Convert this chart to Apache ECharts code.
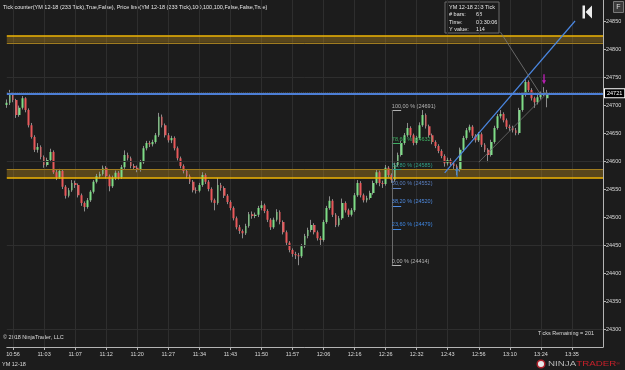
<!DOCTYPE html>
<html>
<head>
<meta charset="utf-8">
<script src="https://cdn.jsdelivr.net/npm/echarts@6/dist/echarts.min.js"></script>
<style>
  html, body { margin: 0; background: #1c1c1c; }
  #chart { width: 625px; height: 370px; }
</style>
</head>
<body>
<div id="chart"></div>
<script>
// time labels, one every 10 bars
const times = ['10:56', '11:03', '11:07', '11:12', '11:20', '11:27', '11:34', '11:43', '11:50', '11:57',
  '12:06', '12:16', '12:26', '12:32', '12:43', '12:56', '13:10', '13:24', '13:35']
const yTicks = [24300, 24350, 24400, 24450, 24500, 24550, 24600, 24650, 24700, 24750, 24800, 24850]
const gridLevels = [24300, 24450, 24600, 24750]

// YM 12-18 233 tick bars
const opens = [24700, 24704, 24718, 24709, 24682, 24695, 24712, 24691, 24664, 24643,
  24620, 24625, 24607, 24593, 24602, 24616, 24580, 24571, 24582, 24554,
  24538, 24548, 24561, 24557, 24539, 24525, 24518, 24530, 24545, 24563,
  24573, 24577, 24588, 24573, 24555, 24570, 24579, 24571, 24589, 24611,
  24605, 24591, 24588, 24584, 24598, 24623, 24632, 24630, 24634, 24646,
  24679, 24664, 24646, 24637, 24641, 24623, 24605, 24591, 24582, 24573,
  24563, 24548, 24547, 24557, 24575, 24563, 24550, 24530, 24525, 24557,
  24552, 24538, 24527, 24516, 24498, 24482, 24475, 24471, 24484, 24505,
  24502, 24504, 24516, 24521, 24511, 24495, 24482, 24495, 24509, 24491,
  24473, 24454, 24441, 24434, 24432, 24430, 24448, 24466, 24477, 24486,
  24473, 24462, 24459, 24491, 24516, 24529, 24504, 24486, 24498, 24525,
  24512, 24504, 24512, 24539, 24561, 24539, 24530, 24534, 24543, 24561,
  24580, 24561, 24559, 24588, 24575, 24566, 24593, 24611, 24632, 24646,
  24659, 24646, 24632, 24641, 24664, 24682, 24662, 24646, 24634, 24627,
  24618, 24609, 24596, 24602, 24596, 24591, 24584, 24620, 24641, 24655,
  24661, 24645, 24637, 24648, 24629, 24620, 24611, 24634, 24659, 24680,
  24684, 24673, 24661, 24659, 24655, 24650, 24691, 24718, 24741, 24727,
  24712, 24705, 24714, 24720, 24712]
const closes = [24704, 24718, 24709, 24682, 24695, 24712, 24691, 24664, 24643, 24620,
  24625, 24607, 24593, 24602, 24616, 24580, 24571, 24582, 24554, 24538,
  24548, 24561, 24557, 24539, 24525, 24518, 24530, 24545, 24563, 24573,
  24577, 24588, 24573, 24555, 24570, 24579, 24571, 24589, 24611, 24605,
  24591, 24588, 24584, 24598, 24623, 24632, 24630, 24634, 24646, 24679,
  24664, 24646, 24637, 24641, 24623, 24605, 24591, 24582, 24573, 24563,
  24548, 24547, 24557, 24575, 24563, 24550, 24530, 24525, 24557, 24552,
  24538, 24527, 24516, 24498, 24482, 24475, 24471, 24484, 24505, 24502,
  24504, 24516, 24521, 24511, 24495, 24482, 24495, 24509, 24491, 24473,
  24454, 24441, 24434, 24432, 24430, 24448, 24466, 24477, 24486, 24473,
  24462, 24459, 24491, 24516, 24529, 24504, 24486, 24498, 24525, 24512,
  24504, 24512, 24539, 24561, 24539, 24530, 24534, 24543, 24561, 24580,
  24561, 24559, 24588, 24575, 24566, 24593, 24611, 24632, 24646, 24659,
  24646, 24632, 24641, 24664, 24682, 24662, 24646, 24634, 24627, 24618,
  24609, 24596, 24602, 24596, 24591, 24584, 24620, 24641, 24655, 24661,
  24645, 24637, 24648, 24629, 24620, 24611, 24634, 24659, 24680, 24684,
  24673, 24661, 24659, 24655, 24650, 24691, 24718, 24741, 24727, 24712,
  24705, 24714, 24720, 24723, 24721]
const lows = [24695, 24700, 24705, 24677, 24679, 24692, 24687, 24660, 24640, 24616,
  24615, 24603, 24588, 24590, 24598, 24577, 24566, 24568, 24550, 24533,
  24535, 24545, 24552, 24535, 24520, 24510, 24515, 24527, 24542, 24560,
  24569, 24574, 24569, 24546, 24552, 24566, 24567, 24568, 24586, 24601,
  24587, 24584, 24580, 24581, 24595, 24619, 24625, 24626, 24631, 24643,
  24660, 24642, 24633, 24632, 24619, 24601, 24587, 24578, 24569, 24559,
  24544, 24542, 24544, 24554, 24559, 24546, 24526, 24512, 24522, 24547,
  24534, 24523, 24512, 24494, 24478, 24470, 24462, 24468, 24481, 24497,
  24498, 24500, 24512, 24507, 24491, 24477, 24479, 24492, 24487, 24469,
  24450, 24437, 24429, 24425, 24414, 24427, 24445, 24462, 24473, 24469,
  24458, 24448, 24456, 24488, 24513, 24500, 24482, 24483, 24495, 24508,
  24500, 24501, 24509, 24536, 24535, 24526, 24526, 24531, 24540, 24558,
  24555, 24552, 24556, 24571, 24561, 24563, 24590, 24608, 24629, 24643,
  24642, 24628, 24629, 24638, 24661, 24658, 24642, 24630, 24623, 24614,
  24605, 24590, 24592, 24592, 24586, 24575, 24581, 24617, 24638, 24651,
  24641, 24633, 24634, 24625, 24616, 24598, 24608, 24631, 24656, 24676,
  24669, 24657, 24654, 24651, 24646, 24647, 24688, 24715, 24723, 24708,
  24695, 24701, 24710, 24716, 24696]
const highs = [24710, 24727, 24722, 24711, 24699, 24716, 24714, 24694, 24668, 24646,
  24632, 24628, 24610, 24606, 24622, 24619, 24584, 24586, 24585, 24557,
  24552, 24566, 24565, 24560, 24542, 24528, 24534, 24548, 24566, 24577,
  24581, 24592, 24591, 24576, 24574, 24583, 24582, 24593, 24619, 24615,
  24608, 24595, 24592, 24602, 24627, 24636, 24636, 24638, 24650, 24686,
  24683, 24667, 24650, 24645, 24644, 24626, 24608, 24594, 24585, 24576,
  24566, 24553, 24561, 24580, 24578, 24566, 24553, 24533, 24570, 24561,
  24555, 24541, 24530, 24519, 24501, 24486, 24478, 24488, 24509, 24510,
  24508, 24520, 24529, 24524, 24514, 24498, 24499, 24514, 24512, 24494,
  24476, 24457, 24444, 24438, 24436, 24452, 24470, 24481, 24495, 24489,
  24476, 24466, 24495, 24520, 24537, 24532, 24507, 24502, 24533, 24528,
  24515, 24516, 24543, 24566, 24564, 24542, 24538, 24547, 24565, 24584,
  24583, 24565, 24593, 24591, 24578, 24597, 24615, 24636, 24650, 24668,
  24662, 24649, 24645, 24669, 24691, 24685, 24665, 24649, 24637, 24630,
  24621, 24612, 24606, 24605, 24599, 24594, 24624, 24645, 24659, 24665,
  24664, 24648, 24652, 24651, 24632, 24623, 24638, 24663, 24684, 24691,
  24687, 24676, 24665, 24663, 24659, 24695, 24722, 24746, 24744, 24730,
  24715, 24718, 24724, 24732, 24727]

const lastPrice = 24721
const upperZone = [24811, 24823]
const lowerZone = [24570, 24586]
const fibPct = ['100,00', '78,60', '61,80', '50,00', '38,20', '23,60', '0,00']
const fibVal = [24691, 24632, 24585, 24552, 24520, 24479, 24414]
// drawing tools, [bar index, price]
const trendBlue = [[140.7, 24579], [183.3, 24850]]
const measureLine = [[158.5, 24830], [172, 24718]]
const channelLine = [[151.7, 24598], [174.3, 24721]]
const fibX = [123.9, 126.5]
const upArrow = [145, 24581]
const downArrow = [173, 24746]

const font = 'Liberation Sans, Arial, sans-serif'
const nCats = 193
const showIdx = i => i >= 2 && (i - 2) % 10 === 0 && (i - 2) / 10 < times.length
const cats = []
for (let i = 0; i < nCats; i++)
  cats.push(showIdx(i) ? times[(i - 2) / 10] : '')
const candles = closes.map((c, i) => [opens[i], c, lows[i], highs[i]])
const fibColors = ['#b4b4b4', '#3fae63', '#2f9f86', '#5a7fc0', '#4f8be0', '#3f86e0', '#b4b4b4']

const chart = echarts.init(document.getElementById('chart'))
chart.setOption({
  backgroundColor: '#1c1c1c',
  animation: false,
  grid: { left: 6.8, right: 22, top: 0, bottom: 23 },
  xAxis: {
    type: 'category',
    data: cats,
    boundaryGap: false,
    axisLine: { lineStyle: { color: '#b4b4b4' } },
    axisTick: { interval: showIdx, length: 3, lineStyle: { color: '#b4b4b4' } },
    axisLabel: { interval: showIdx, color: '#dcdcdc', fontSize: 5.5, fontFamily: font, margin: 4 },
    splitLine: { show: true, interval: showIdx, lineStyle: { color: '#2e2e2e' } },
  },
  yAxis: {
    type: 'value',
    position: 'right',
    min: 24268,
    max: 24887.5,
    axisLine: { show: true, lineStyle: { color: '#b4b4b4' } },
    axisTick: { show: true, customValues: yTicks, length: 3, lineStyle: { color: '#b4b4b4' } },
    axisLabel: {
      customValues: yTicks, formatter: v => String(v),
      color: '#dcdcdc', fontSize: 5.5, fontFamily: font, margin: 3,
    },
    splitLine: { show: false },
  },
  series: [
    {
      type: 'line',
      data: [],
      z: 1,
      markLine: {
        silent: true,
        symbol: ['none', 'none'],
        label: { show: false },
        lineStyle: { color: '#2e2e2e', type: 'solid', width: 1 },
        data: gridLevels.map(v => ({ yAxis: v })),
      },
    },
    {
      type: 'candlestick',
      data: candles,
      z: 2,
      barWidth: 1,
      itemStyle: { color: '#8c8c8c', color0: '#8c8c8c', borderColor: '#8c8c8c', borderColor0: '#8c8c8c', borderWidth: 1 },
    },
    {
      type: 'candlestick',
      data: candles,
      z: 3,
      barWidth: 2.3,
      itemStyle: { color: '#7edc86', color0: '#e8585a', borderWidth: 0 },
    },
    {
      type: 'line',
      data: [],
      z: 4,
      markArea: {
        silent: true,
        itemStyle: { color: 'rgba(200,150,30,0.35)' },
        data: [
          [{ yAxis: upperZone[0] }, { yAxis: upperZone[1] }],
          [{ yAxis: lowerZone[0] }, { yAxis: lowerZone[1] }],
        ],
      },
      markLine: {
        silent: true,
        symbol: ['none', 'none'],
        label: { show: false },
        data: [
          { yAxis: upperZone[1], lineStyle: { color: '#f2b705', width: 1.5, type: 'solid' } },
          { yAxis: upperZone[0], lineStyle: { color: '#a07c20', width: 1, type: 'solid' } },
          { yAxis: lowerZone[1], lineStyle: { color: '#a07c20', width: 1, type: 'solid' } },
          { yAxis: lowerZone[0], lineStyle: { color: '#f2b705', width: 1.5, type: 'solid' } },
        ],
      },
    },
    {
      type: 'line',
      data: [],
      z: 5,
      markLine: {
        silent: true,
        symbol: ['none', 'none'],
        data: [
          { yAxis: lastPrice + 2.5, lineStyle: { color: '#4a4a4a', width: 1, type: 'dotted' }, label: { show: false } },
          {
            yAxis: lastPrice,
            lineStyle: { color: '#4d7fd6', width: 2, type: 'solid' },
            label: {
              show: true, position: 'end', distance: 2, formatter: String(lastPrice),
              color: '#ffffff', fontSize: 5.5, fontFamily: font,
              backgroundColor: '#000000', borderColor: '#ffffff', borderWidth: 1, padding: [1, 2],
            },
          },
          ...fibVal.map((v, k) => [
            {
              coord: [fibX[0], v],
              lineStyle: { color: fibColors[k], width: 1, type: 'solid' },
              label: {
                show: true, position: 'insideStartTop', distance: [0, 1],
                formatter: `${fibPct[k]} % (${v})`,
                color: fibColors[k], fontSize: 5.5, fontFamily: font,
              },
            },
            { coord: [fibX[1], v] },
          ]),
          [
            { coord: [fibX[0], fibVal[0]], lineStyle: { color: '#6a6a6a', width: 1, type: 'solid' }, label: { show: false } },
            { coord: [fibX[0], fibVal[6]] },
          ],
          [
            { coord: trendBlue[0], lineStyle: { color: '#4a86e0', width: 1.2, type: 'solid' }, label: { show: false } },
            { coord: trendBlue[1] },
          ],
          [
            { coord: measureLine[0], lineStyle: { color: '#7a7a7a', width: 0.8, type: 'solid' }, label: { show: false } },
            { coord: measureLine[1] },
          ],
          [
            { coord: channelLine[0], lineStyle: { color: '#6e6e6e', width: 0.8, type: 'solid' }, label: { show: false } },
            { coord: channelLine[1] },
          ],
        ],
      },
    },
    {
      type: 'scatter',
      z: 6,
      symbol: 'path://M3,0L6,4L4,4L4,10L2,10L2,4L0,4Z',
      symbolSize: [4, 10],
      data: [
        { value: upArrow, itemStyle: { color: '#3b8ee8' } },
        { value: downArrow, symbolRotate: 180, itemStyle: { color: '#e01fd8' } },
      ],
    },
  ],
  graphic: [
    {
      type: 'text', left: 3, top: 4,
      style: {
        text: 'Tick counter(YM 12-18 (233 Tick),True,False), Price line(YM 12-18 (233 Tick),100,100,100,False,False,True)',
        fill: '#e6e6e6', fontSize: 5.5, fontFamily: font,
      },
    },
    {
      type: 'group', x: 445, y: 2,
      children: [
        { type: 'rect', shape: { x: 0, y: 0, width: 54, height: 31 }, style: { fill: '#1c1c1c', stroke: '#6a6a6a', lineWidth: 1 } },
        { type: 'text', x: 4, y: 2, style: { text: 'YM 12-18 233 Tick', fill: '#e6e6e6', fontSize: 5.5, fontFamily: font } },
        { type: 'text', x: 4, y: 9.5, style: { text: '# bars:', fill: '#e6e6e6', fontSize: 5.5, fontFamily: font } },
        { type: 'text', x: 31, y: 9.5, style: { text: '68', fill: '#e6e6e6', fontSize: 5.5, fontFamily: font } },
        { type: 'text', x: 4, y: 17, style: { text: 'Time:', fill: '#e6e6e6', fontSize: 5.5, fontFamily: font } },
        { type: 'text', x: 31, y: 17, style: { text: '00:30:06', fill: '#e6e6e6', fontSize: 5.5, fontFamily: font } },
        { type: 'text', x: 4, y: 24.5, style: { text: 'Y value:', fill: '#e6e6e6', fontSize: 5.5, fontFamily: font } },
        { type: 'text', x: 31, y: 24.5, style: { text: '114', fill: '#e6e6e6', fontSize: 5.5, fontFamily: font } },
      ],
    },
    { type: 'rect', shape: { x: 582.5, y: 5.5, width: 2.5, height: 13 }, style: { fill: '#ececec' } },
    { type: 'polygon', shape: { points: [[592, 5.5], [585.5, 12], [592, 18.5]] }, style: { fill: '#ececec' } },
    { type: 'rect', shape: { x: 613.5, y: 1.5, width: 10, height: 11 }, style: { fill: '#3a3a3a', stroke: '#7a7a7a', lineWidth: 1 } },
    { type: 'text', x: 616.3, y: 3.5, style: { text: 'F', fill: '#dcdcdc', fontSize: 7, fontFamily: font } },
    { type: 'text', left: 3, top: 334, style: { text: '© 2018 NinjaTrader, LLC', fill: '#dcdcdc', fontSize: 5.5, fontFamily: font } },
    { type: 'text', right: 31, top: 330, style: { text: 'Ticks Remaining = 201', fill: '#dcdcdc', fontSize: 5.5, fontFamily: font } },
    { type: 'text', left: 2, top: 361, style: { text: 'YM 12-18', fill: '#dcdcdc', fontSize: 5.5, fontFamily: font } },
    { type: 'circle', shape: { cx: 541, cy: 364, r: 3.8 }, style: { fill: '#e8e8e8', stroke: '#b0202a', lineWidth: 1.5 } },
    {
      type: 'text', x: 548, y: 360, scaleX: 1.3,
      style: {
        text: '{n|NINJA}{t|TRADER}{r|®}',
        rich: {
          n: { fill: '#b4b4b4', fontSize: 7.5, fontFamily: font },
          t: { fill: '#c8202a', fontSize: 7.5, fontFamily: font },
          r: { fill: '#c8202a', fontSize: 4, fontFamily: font },
        },
      },
    },
  ],
})
</script>
</body>
</html>
